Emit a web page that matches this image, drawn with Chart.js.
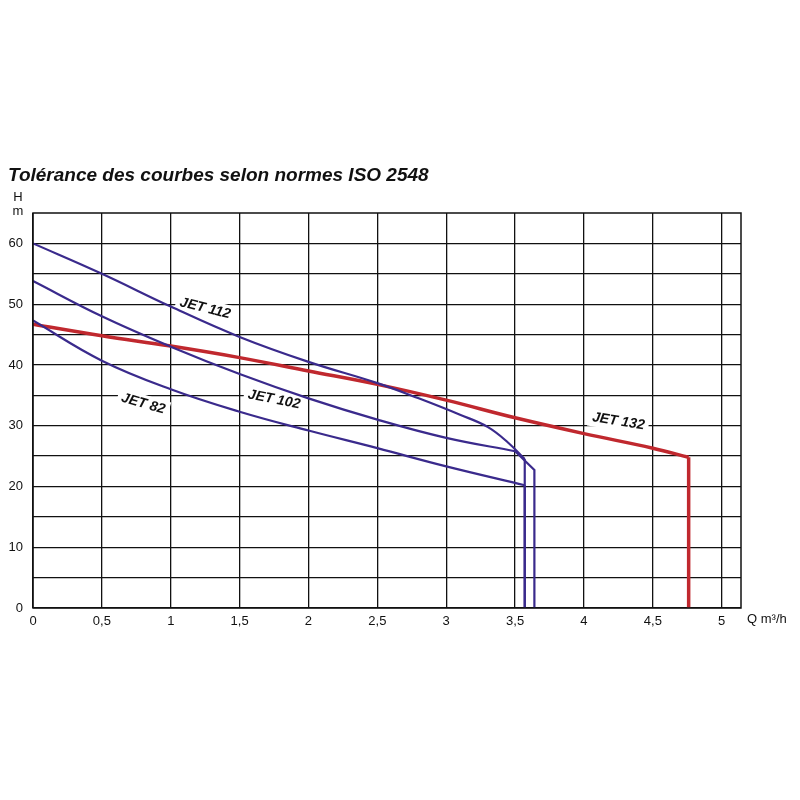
<!DOCTYPE html>
<html><head><meta charset="utf-8">
<script src="https://cdn.jsdelivr.net/npm/chart.js@4"></script>
<style>html,body{margin:0;background:#fff}#w{width:800px;height:800px}</style>
</head><body><div id="w"><canvas id="c"></canvas></div>
<script>
const jet112 = [[0,60],[0.5,55],[1,49.6],[1.5,44.6],[2,40.5],[2.5,37],[2.8,34.5],[3.1,31.8],[3.3,29.8],[3.45,27.2],[3.57,24.5]];
const jet112v = [[3.57,24.5],[3.57,0]];
const jet102 = [[0,53.8],[0.5,48],[1,43],[1.5,38.5],[2,34.5],[2.5,31],[3,28],[3.5,25.8]];
const jet102b = [[3.5,25.8],[3.64,22.7],[3.64,0]];
const jet82 = [[0,47.3],[0.5,40.7],[1,36],[1.5,32.3],[2,29.2],[2.5,26.3],[3,23.3],[3.57,20.2]];
const jet82v = [[3.57,20.2],[3.57,0]];
const jet132 = [[0,46.7],[0.5,44.8],[1,43.1],[1.5,41.2],[2,39],[2.5,36.8],[3,34.2],[3.5,31.3],[4,28.7],[4.5,26.3],[4.76,24.8]];
const jet132v = [[4.76,24.8],[4.76,0]];
const xTicks = [0,0.5,1,1.5,2,2.5,3,3.5,4,4.5,5];
const yTicks = [0,5,10,15,20,25,30,35,40,45,50,55,60];
const curveLabels = [
 {t:'JET 112',x:1.25,y:49.3,r:14},
 {t:'JET 102',x:1.75,y:34.3,r:11},
 {t:'JET 82',x:0.8,y:33.6,r:16},
 {t:'JET 132',x:4.25,y:30.7,r:9}
];
const BLUE='#3a2a8c', RED='#c0282e';
const pts=a=>a.map(p=>({x:p[0],y:p[1]}));
const ds=(d,c,w,t)=>({data:pts(d),borderColor:c,borderWidth:w,pointRadius:0,tension:t,fill:false});
const deco={id:'deco',
 beforeDatasetsDraw(ch){const {ctx,scales:{x,y}}=ch;ctx.save();
  ctx.font='italic bold 14px "Liberation Sans Narrow","Liberation Sans",sans-serif';
  curveLabels.forEach(l=>{const px=x.getPixelForValue(l.x),py=y.getPixelForValue(l.y);
   ctx.save();ctx.translate(px,py);ctx.rotate(l.r*Math.PI/180);
   const w=ctx.measureText(l.t).width;ctx.fillStyle='#fff';ctx.fillRect(-w/2-4,-9,w+8,18);ctx.restore();});
  ctx.restore();},
 afterDatasetsDraw(ch){const {ctx,chartArea:a,scales:{x,y}}=ch;ctx.save();
  ctx.strokeStyle='#111';ctx.lineWidth=1.5;ctx.strokeRect(a.left,a.top,a.right-a.left,a.bottom-a.top);
  ctx.fillStyle='#111';ctx.textAlign='center';ctx.textBaseline='middle';
  ctx.font='italic bold 14px "Liberation Sans Narrow","Liberation Sans",sans-serif';
  curveLabels.forEach(l=>{const px=x.getPixelForValue(l.x),py=y.getPixelForValue(l.y);
   ctx.save();ctx.translate(px,py);ctx.rotate(l.r*Math.PI/180);ctx.fillText(l.t,0,0);ctx.restore();});
  ctx.textAlign='left';ctx.font='italic bold 19px "Liberation Sans",sans-serif';
  ctx.fillText('Tolérance des courbes selon normes ISO 2548',8,176);
  ctx.font='13px "Liberation Sans",sans-serif';ctx.textAlign='center';
  ctx.fillText('H',18,197);ctx.fillText('m',18,211);
  ctx.textAlign='left';ctx.fillText('Q m³/h',747,619);
  ctx.restore();}
};
new Chart(document.getElementById('c'),{type:'line',
 data:{datasets:[ds(jet112,BLUE,2.2,0.4),ds(jet112v,BLUE,2.2,0),ds(jet102,BLUE,2.2,0.4),ds(jet102b,BLUE,2.2,0),
  ds(jet82,BLUE,2.2,0.4),ds(jet82v,BLUE,2.2,0),ds(jet132,RED,3.5,0.4),ds(jet132v,RED,3.5,0)]},
 options:{responsive:true,maintainAspectRatio:false,animation:false,
  layout:{padding:{left:0,top:213,right:59,bottom:0}},
  plugins:{legend:{display:false},tooltip:{enabled:false}},
  scales:{
   x:{type:'linear',min:0,max:5.14,afterFit:s=>{s.height=192},
    afterBuildTicks:s=>{s.ticks=xTicks.map(v=>({value:v}))},
    grid:{color:'#111',lineWidth:1.3,drawTicks:false},border:{display:false},
    ticks:{color:'#111',padding:6,font:{size:13,family:'Liberation Sans'},callback:v=>String(v).replace('.',',')}},
   y:{type:'linear',min:0,max:65,afterFit:s=>{s.width=33},
    afterBuildTicks:s=>{s.ticks=yTicks.map(v=>({value:v}))},
    grid:{color:'#111',lineWidth:1.3,drawTicks:false},border:{display:false},
    ticks:{color:'#111',padding:10,font:{size:13,family:'Liberation Sans'},callback:v=>v%10===0?String(v):''}}
  }},
 plugins:[deco]});
</script></body></html>
